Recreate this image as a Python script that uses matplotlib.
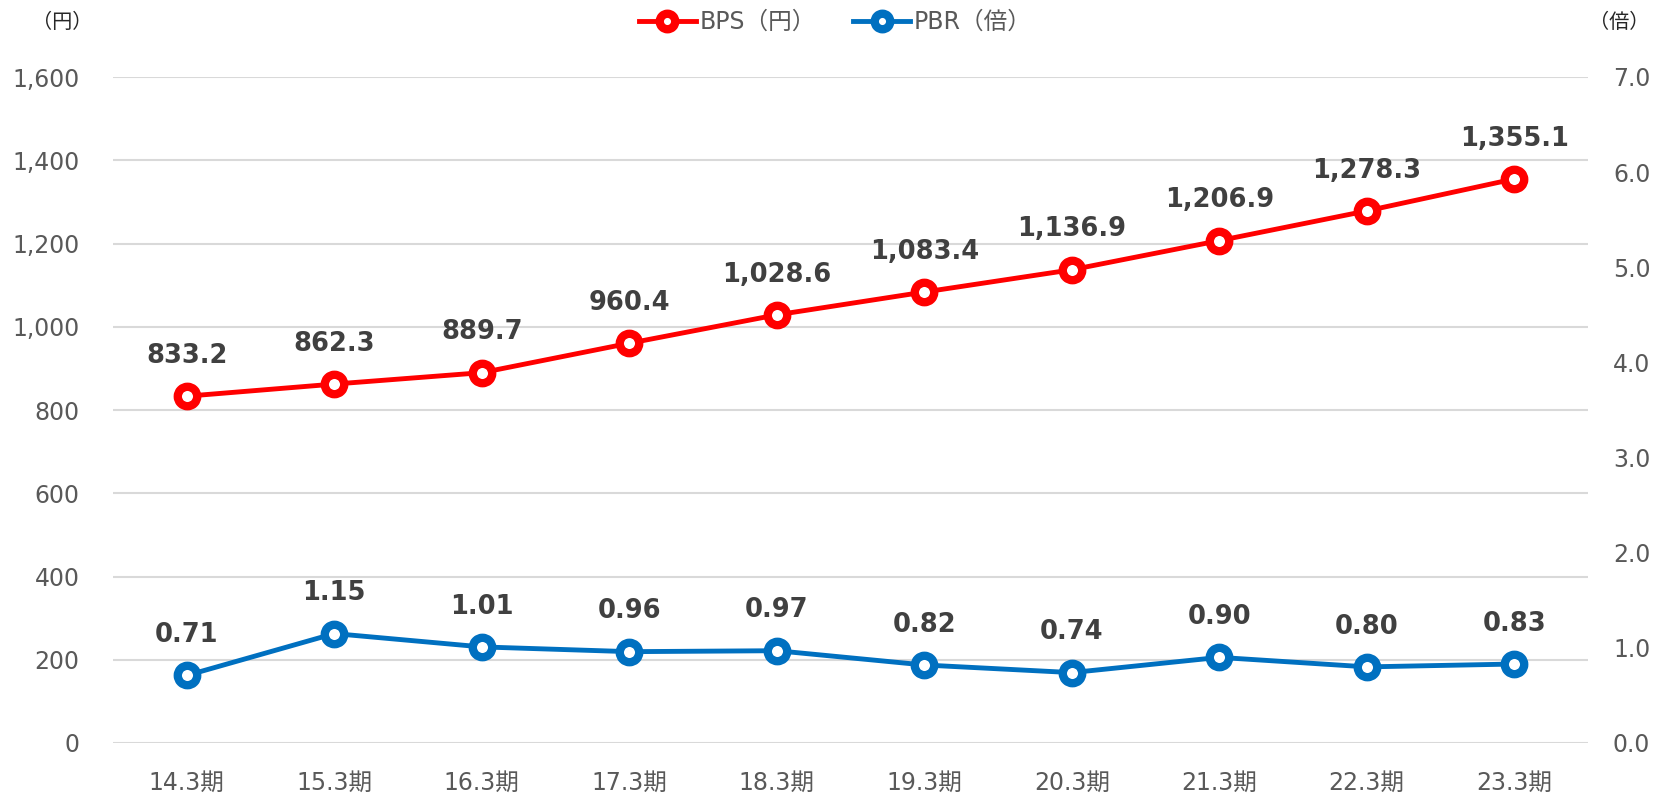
import numpy as np
import matplotlib
matplotlib.use('Agg')
import matplotlib.pyplot as plt

plt.rcParams['font.family'] = ['DejaVu Sans', 'Noto Sans CJK JP']

periods = ['14.3期', '15.3期', '16.3期', '17.3期', '18.3期',
           '19.3期', '20.3期', '21.3期', '22.3期', '23.3期']
bps = [833.2, 862.3, 889.7, 960.4, 1028.6, 1083.4, 1136.9, 1206.9, 1278.3, 1355.1]
pbr = [0.71, 1.15, 1.01, 0.96, 0.97, 0.82, 0.74, 0.90, 0.80, 0.83]
left_ticks = [0, 200, 400, 600, 800, 1000, 1200, 1400, 1600]
right_ticks = [0, 1, 2, 3, 4, 5, 6, 7]

RED = '#ff0000'
BLUE = '#0070c0'
TICK = '#595959'
LABEL = '#404040'

fig = plt.figure(figsize=(16.54, 7.96), dpi=100)
ax = fig.add_axes([113/1654, 1 - 743/796, (1588-113)/1654, (743-77)/796])
ax2 = ax.twinx()

x = np.arange(len(periods))

# Left axis: BPS
l1, = ax.plot(x, bps, '-o', color=RED, lw=3.5, ms=14, mfc='white', mec=RED,
              mew=6, label='BPS（円）', zorder=3)
for xi, v in zip(x, bps):
  ax.annotate('{:,.1f}'.format(v), (xi, v), xytext=(0, 24), textcoords='offset points',
              ha='center', va='baseline', fontsize=18.5, fontweight='bold', color=LABEL)

# Right axis: PBR
l2, = ax2.plot(x, pbr, '-o', color=BLUE, lw=3.5, ms=14, mfc='white', mec=BLUE,
               mew=6, label='PBR（倍）', zorder=3)
for xi, v in zip(x, pbr):
  ax2.annotate('{:.2f}'.format(v), (xi, v), xytext=(0, 24), textcoords='offset points',
               ha='center', va='baseline', fontsize=18.5, fontweight='bold', color=LABEL)

ax.set_xlim(-0.5, len(periods) - 0.5)
ax.set_ylim(0, 1600)
ax2.set_ylim(0, 7)
ax.set_yticks(left_ticks)
ax.set_yticklabels(['{:,}'.format(t) for t in left_ticks])
ax2.set_yticks(right_ticks)
ax2.set_yticklabels(['{:.1f}'.format(t) for t in right_ticks])
ax.set_xticks(x)
ax.set_xticklabels(periods)

ax.grid(axis='y', color='#d9d9d9', lw=1.5)
ax.set_axisbelow(True)
for a in (ax, ax2):
  for s in a.spines.values():
    s.set_visible(False)
ax.tick_params(axis='y', length=0, pad=24, labelsize=17, labelcolor=TICK)
ax.tick_params(axis='x', length=0, pad=20, labelsize=17, labelcolor=TICK)
ax2.tick_params(axis='y', length=0, pad=18, labelsize=17, labelcolor=TICK)

fig.text(62/1654, 1 - 22/796, '（円）', ha='center', va='center', fontsize=14.5,
         color='#262626', family=['Noto Sans CJK JP'])
fig.text(1619/1654, 1 - 22/796, '（倍）', ha='center', va='center', fontsize=14.5,
         color='#262626', family=['Noto Sans CJK JP'])

fig.legend(handles=[l1, l2], loc='center', bbox_to_anchor=(0.505, 1 - 22/796), ncol=2,
           frameon=False, fontsize=17, labelcolor=TICK, markerscale=0.8,
           handlelength=2.4, columnspacing=1.6, handletextpad=0.15)

fig.savefig('out.png', dpi=100)
